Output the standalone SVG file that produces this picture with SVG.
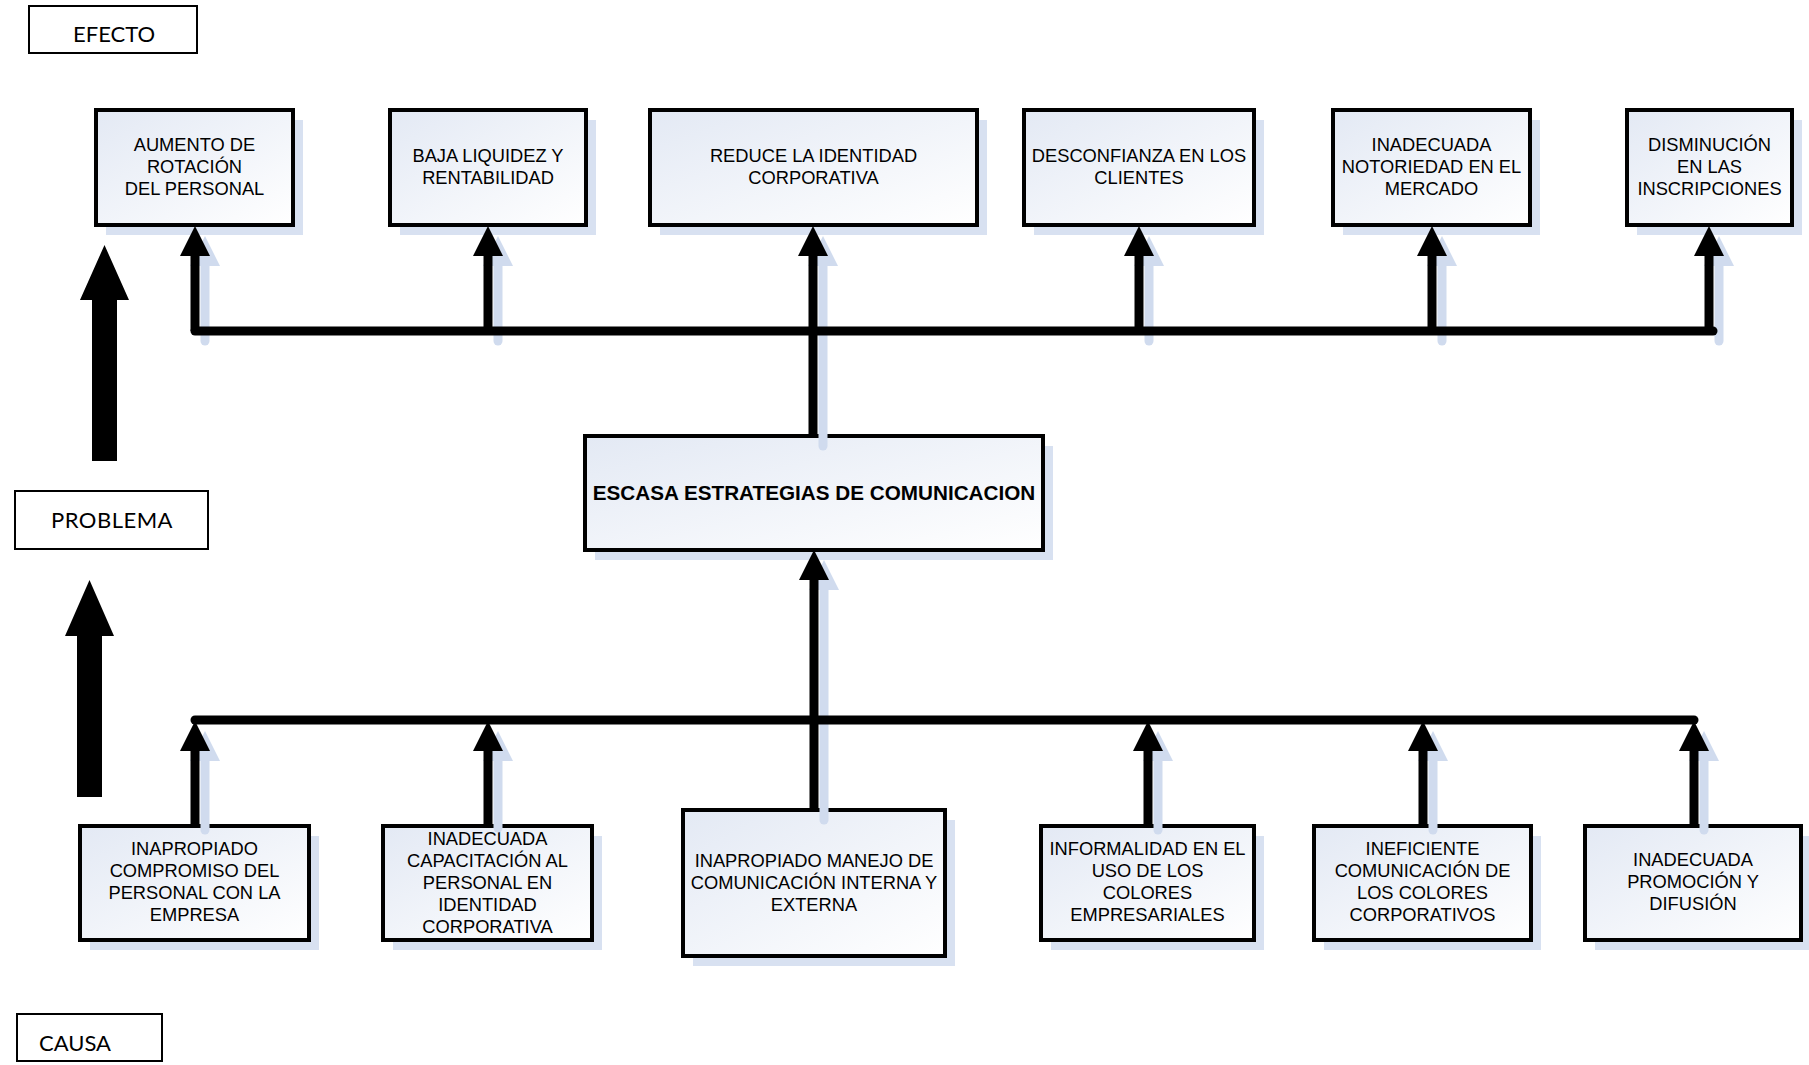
<svg xmlns="http://www.w3.org/2000/svg" width="1809" height="1065" viewBox="0 0 1809 1065">
  <style>
    .lbl { fill: #ffffff; stroke: #000000; stroke-width: 2; }
    .lbl-text { font-family: Lato, "Open Sans", sans-serif; font-size: 22px; fill: #000000; }
    .box { fill: url(#boxFill); stroke: #000000; stroke-width: 4; }
    .shadow { fill: #d8e1f1; stroke: none; }
    .t { font-family: "Liberation Sans", Arial, sans-serif; font-size: 18.3px; fill: #000000; text-anchor: middle; }
    .tb { font-family: "Liberation Sans", Arial, sans-serif; font-size: 20.7px; font-weight: bold; fill: #000000; text-anchor: middle; }
    .wire { fill: none; stroke: #000000; stroke-width: 9; stroke-linecap: round; }
    .arrow { fill: none; stroke: #000000; stroke-width: 9; marker-end: url(#head); }
    .arrow-sh { fill: none; stroke: #d0dbee; stroke-width: 9; stroke-linecap: round; marker-end: url(#headSh); }
    .big { fill: #000000; }
  </style>
  <defs>
    <linearGradient id="boxFill" x1="0" y1="0" x2="1" y2="1">
      <stop offset="0" stop-color="#e3e9f4"/>
      <stop offset="1" stop-color="#ffffff"/>
    </linearGradient>
    <marker id="head" markerUnits="userSpaceOnUse" markerWidth="30" markerHeight="30" viewBox="0 0 30 30" refX="0" refY="15" orient="auto">
      <path d="M0,0 L30,15 L0,30 Z" fill="#000000"/>
    </marker>
    <marker id="headSh" markerUnits="userSpaceOnUse" markerWidth="30" markerHeight="30" viewBox="0 0 30 30" refX="0" refY="15" orient="auto">
      <path d="M0,0 L30,15 L0,30 Z" fill="#d0dbee"/>
    </marker>
  </defs>

  <rect width="1809" height="1065" fill="#ffffff"/>

  <!-- side labels -->
  <g id="label-efecto">
    <rect class="lbl" x="29" y="6" width="168" height="47"/>
    <text class="lbl-text" x="73" y="42">EFECTO</text>
  </g>
  <g id="label-problema">
    <rect class="lbl" x="15" y="491" width="193" height="58"/>
    <text class="lbl-text" x="51" y="528" letter-spacing="0.5">PROBLEMA</text>
  </g>
  <g id="label-causa">
    <rect class="lbl" x="17" y="1014" width="145" height="47"/>
    <text class="lbl-text" x="39" y="1051">CAUSA</text>
  </g>

  <!-- direction arrows -->
  <g id="arrow-up-effect">
    <polygon class="big" points="92,300 80,300 104.5,245 129,300 117,300 117,461 92,461"/>
  </g>
  <g id="arrow-up-problem">
    <polygon class="big" points="77,636 65,636 89.5,580 114,636 102,636 102,797 77,797"/>
  </g>

  <!-- effect nodes -->
  <g id="effect-1">
    <rect class="shadow" x="106" y="120" width="197" height="115"/>
    <rect class="box" x="96" y="110" width="197" height="115"/>
    <text class="t" x="194.5" y="151">AUMENTO DE</text>
    <text class="t" x="194.5" y="173">ROTACIÓN</text>
    <text class="t" x="194.5" y="195">DEL PERSONAL</text>
  </g>
  <g id="effect-2">
    <rect class="shadow" x="400" y="120" width="196" height="115"/>
    <rect class="box" x="390" y="110" width="196" height="115"/>
    <text class="t" x="488" y="162">BAJA LIQUIDEZ Y</text>
    <text class="t" x="488" y="184">RENTABILIDAD</text>
  </g>
  <g id="effect-3">
    <rect class="shadow" x="660" y="120" width="327" height="115"/>
    <rect class="box" x="650" y="110" width="327" height="115"/>
    <text class="t" x="813.5" y="162">REDUCE LA IDENTIDAD</text>
    <text class="t" x="813.5" y="184">CORPORATIVA</text>
  </g>
  <g id="effect-4">
    <rect class="shadow" x="1034" y="120" width="230" height="115"/>
    <rect class="box" x="1024" y="110" width="230" height="115"/>
    <text class="t" x="1139" y="162">DESCONFIANZA EN LOS</text>
    <text class="t" x="1139" y="184">CLIENTES</text>
  </g>
  <g id="effect-5">
    <rect class="shadow" x="1343" y="120" width="197" height="115"/>
    <rect class="box" x="1333" y="110" width="197" height="115"/>
    <text class="t" x="1431.5" y="151">INADECUADA</text>
    <text class="t" x="1431.5" y="173">NOTORIEDAD EN EL</text>
    <text class="t" x="1431.5" y="195">MERCADO</text>
  </g>
  <g id="effect-6">
    <rect class="shadow" x="1637" y="120" width="165" height="115"/>
    <rect class="box" x="1627" y="110" width="165" height="115"/>
    <text class="t" x="1709.5" y="151">DISMINUCIÓN</text>
    <text class="t" x="1709.5" y="173">EN LAS</text>
    <text class="t" x="1709.5" y="195">INSCRIPCIONES</text>
  </g>

  <!-- central problem -->
  <g id="problem">
    <rect class="shadow" x="595" y="446" width="458" height="114"/>
    <rect class="box" x="585" y="436" width="458" height="114"/>
    <text class="tb" x="814" y="500">ESCASA ESTRATEGIAS DE COMUNICACION</text>
  </g>

  <!-- cause nodes -->
  <g id="cause-1">
    <rect class="shadow" x="90" y="836" width="229" height="114"/>
    <rect class="box" x="80" y="826" width="229" height="114"/>
    <text class="t" x="194.5" y="855">INAPROPIADO</text>
    <text class="t" x="194.5" y="877">COMPROMISO DEL</text>
    <text class="t" x="194.5" y="899">PERSONAL CON LA</text>
    <text class="t" x="194.5" y="921">EMPRESA</text>
  </g>
  <g id="cause-2">
    <rect class="shadow" x="393" y="836" width="209" height="114"/>
    <rect class="box" x="383" y="826" width="209" height="114"/>
    <text class="t" x="487.5" y="845">INADECUADA</text>
    <text class="t" x="487.5" y="867">CAPACITACIÓN AL</text>
    <text class="t" x="487.5" y="889">PERSONAL EN</text>
    <text class="t" x="487.5" y="911">IDENTIDAD</text>
    <text class="t" x="487.5" y="933">CORPORATIVA</text>
  </g>
  <g id="cause-3">
    <rect class="shadow" x="693" y="820" width="262" height="146"/>
    <rect class="box" x="683" y="810" width="262" height="146"/>
    <text class="t" x="814" y="867">INAPROPIADO MANEJO DE</text>
    <text class="t" x="814" y="889">COMUNICACIÓN INTERNA Y</text>
    <text class="t" x="814" y="911">EXTERNA</text>
  </g>
  <g id="cause-4">
    <rect class="shadow" x="1051" y="836" width="213" height="114"/>
    <rect class="box" x="1041" y="826" width="213" height="114"/>
    <text class="t" x="1147.5" y="855">INFORMALIDAD EN EL</text>
    <text class="t" x="1147.5" y="877">USO DE LOS</text>
    <text class="t" x="1147.5" y="899">COLORES</text>
    <text class="t" x="1147.5" y="921">EMPRESARIALES</text>
  </g>
  <g id="cause-5">
    <rect class="shadow" x="1324" y="836" width="217" height="114"/>
    <rect class="box" x="1314" y="826" width="217" height="114"/>
    <text class="t" x="1422.5" y="855">INEFICIENTE</text>
    <text class="t" x="1422.5" y="877">COMUNICACIÓN DE</text>
    <text class="t" x="1422.5" y="899">LOS COLORES</text>
    <text class="t" x="1422.5" y="921">CORPORATIVOS</text>
  </g>
  <g id="cause-6">
    <rect class="shadow" x="1595" y="836" width="216" height="114"/>
    <rect class="box" x="1585" y="826" width="216" height="114"/>
    <text class="t" x="1693" y="866">INADECUADA</text>
    <text class="t" x="1693" y="888">PROMOCIÓN Y</text>
    <text class="t" x="1693" y="910">DIFUSIÓN</text>
  </g>

  <!-- connectors -->
  <g id="connectors">
    <!-- soft shadows of the vertical runs -->
    <g transform="translate(10,10)">
      <path class="arrow-sh" d="M195,331 V256"/>
      <path class="arrow-sh" d="M488,331 V256"/>
      <path class="arrow-sh" d="M813,436 V256"/>
      <path class="arrow-sh" d="M1139,331 V256"/>
      <path class="arrow-sh" d="M1432,331 V256"/>
      <path class="arrow-sh" d="M1709,331 V256"/>
      <path class="arrow-sh" d="M195,820 V751"/>
      <path class="arrow-sh" d="M488,818 V751"/>
      <path class="arrow-sh" d="M1148,820 V751"/>
      <path class="arrow-sh" d="M1423,820 V751"/>
      <path class="arrow-sh" d="M1694,820 V751"/>
      <path class="arrow-sh" d="M814,810 V580"/>
    </g>
    <!-- effect side -->
    <path class="wire" d="M195,331 H1713"/>
    <path class="arrow" d="M195,331 V256"/>
    <path class="arrow" d="M488,331 V256"/>
    <path class="arrow" d="M813,436 V256"/>
    <path class="arrow" d="M1139,331 V256"/>
    <path class="arrow" d="M1432,331 V256"/>
    <path class="arrow" d="M1709,331 V256"/>
    <!-- cause side -->
    <path class="wire" d="M195,720 H1694"/>
    <path class="arrow" d="M195,826 V751"/>
    <path class="arrow" d="M488,826 V751"/>
    <path class="arrow" d="M1148,826 V751"/>
    <path class="arrow" d="M1423,826 V751"/>
    <path class="arrow" d="M1694,826 V751"/>
    <path class="arrow" d="M814,810 V580"/>
  </g>
</svg>
